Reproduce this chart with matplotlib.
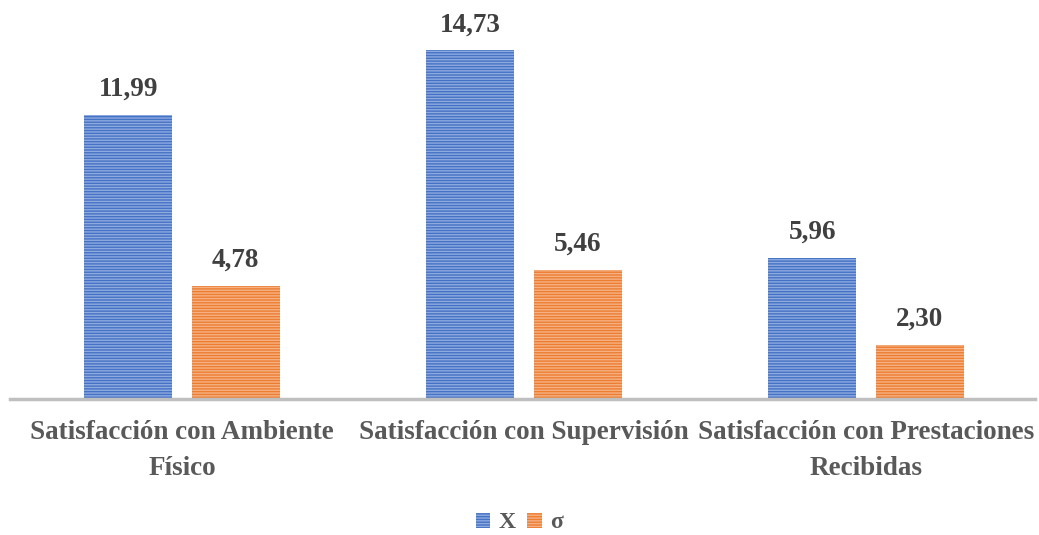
import matplotlib.pyplot as plt
import numpy as np

plt.rcParams['font.family'] = ['Liberation Serif', 'DejaVu Serif']
plt.rcParams['font.weight'] = 'bold'
plt.rcParams['hatch.linewidth'] = 1.0

categorias = ['Satisfacción con Ambiente\nFísico',
              'Satisfacción con Supervisión',
              'Satisfacción con Prestaciones\nRecibidas']
media = [11.99, 14.73, 5.96]
desviacion = [4.78, 5.46, 2.30]
etiquetas_leyenda = ['X', 'σ']

azul = '#4472C4'
naranja = '#ED7D31'

fig = plt.figure(figsize=(10.39, 5.35), dpi=100)
ax = fig.add_axes([10 / 1039, 136 / 535, 1025 / 1039, 379 / 535])

x = np.arange(len(categorias))
ancho = 0.257
off = 0.157

b1 = ax.bar(x - off, media, ancho, color=azul, edgecolor='#8eaadf', linewidth=0,
            hatch='------', label=etiquetas_leyenda[0])
b2 = ax.bar(x + off, desviacion, ancho, color=naranja, edgecolor='#f5b183', linewidth=0,
            hatch='------', label=etiquetas_leyenda[1])

for barras in (b1, b2):
    for r in barras:
        h = r.get_height()
        ax.text(r.get_x() + r.get_width() / 2, h + 0.8, f'{h:.2f}'.replace('.', ','),
                ha='center', va='baseline', fontsize=19.5, color='#404040', fontweight='bold')

ax.set_xlim(-0.503, 2.494)
ax.set_ylim(0, 379 / 23.68)
ax.set_yticks([])
ax.set_xticks(x)
ax.set_xticklabels(categorias, fontsize=19.5, color='#595959', linespacing=1.6)
ax.tick_params(axis='x', length=0, pad=15)
for s in ['top', 'right', 'left']:
    ax.spines[s].set_visible(False)
ax.spines['bottom'].set_color('#bfbfbf')
ax.spines['bottom'].set_linewidth(2.5)

leg = fig.legend(handles=[b1, b2], loc='center', bbox_to_anchor=(0.5, 12 / 535), ncol=2,
                 frameon=False, fontsize=17, handlelength=0.6, handleheight=0.6,
                 handletextpad=0.35, columnspacing=0.5)
for t in leg.get_texts():
    t.set_color('#595959')

fig.savefig('out.png', dpi=100)
